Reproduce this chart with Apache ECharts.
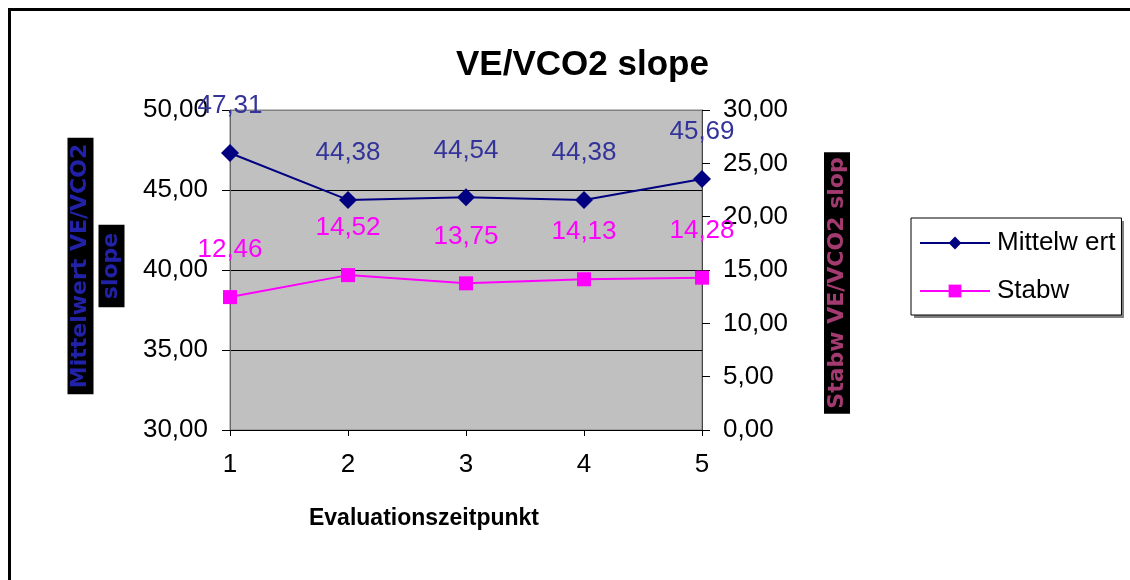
<!DOCTYPE html>
<html>
<head>
<meta charset="utf-8">
<title>VE/VCO2 slope</title>
<script src="https://cdn.jsdelivr.net/npm/echarts@6/dist/echarts.min.js"></script>
<style>
  html, body { margin: 0; padding: 0; background: #fff; }
  #chart { width: 1130px; height: 580px; }
</style>
</head>
<body>
<div id="chart"></div>
<script>
// values
const categories = ['1', '2', '3', '4', '5']
const mittelwert = [47.31, 44.38, 44.54, 44.38, 45.69]
const stabw = [12.46, 14.52, 13.75, 14.13, 14.28]

const font = 'Liberation Sans, Arial, sans-serif'
const pixelFont = 'DejaVu Sans, Verdana, sans-serif'
const comma = v => Number(v).toFixed(2).replace('.', ',')

const chart = echarts.init(document.getElementById('chart'))

chart.setOption({
  backgroundColor: '#fff',
  animation: false,
  textStyle: {fontFamily: font},
  title: {
    text: 'VE/VCO2 slope',
    left: 451,
    top: 43,
    textStyle: {fontSize: 35, fontWeight: 'bold', color: '#000', fontFamily: font}
  },
  graphic: [{
    type: 'rect',
    shape: {x: 9.5, y: 9.5, width: 1200, height: 700},
    style: {fill: 'none', stroke: '#000', lineWidth: 3},
    silent: true
  }, {
    // legend drop shadow
    type: 'rect',
    z: 0,
    shape: {x: 914, y: 221, width: 210, height: 97},
    style: {fill: '#808080'},
    silent: true
  }],
  legend: {
    left: 911,
    top: 218,
    z: 10,
    orient: 'vertical',
    itemWidth: 70,
    itemHeight: 16,
    itemGap: 22,
    padding: [12, 6, 11, 8],
    borderColor: '#000',
    borderWidth: 1,
    backgroundColor: '#fff',
    textStyle: {fontSize: 26, color: '#000', fontFamily: font, padding: [0, 0, 0, 2]}
  },
  grid: {
    left: 230,
    right: 428,
    top: 110,
    bottom: 150,
    show: true,
    backgroundColor: '#c0c0c0',
    borderColor: '#808080',
    borderWidth: 1
  },
  xAxis: {
    type: 'category',
    data: categories,
    boundaryGap: false,
    name: 'Evaluationszeitpunkt',
    nameLocation: 'middle',
    nameGap: 77,
    nameTextStyle: {fontSize: 23, fontWeight: 'bold', color: '#000', padding: [0, 84, 0, 0]},
    axisLine: {lineStyle: {color: '#000', width: 1}},
    axisTick: {alignWithLabel: true, length: 6, lineStyle: {color: '#000'}},
    axisLabel: {fontSize: 26, color: '#000', margin: 22}
  },
  yAxis: [{
    type: 'value',
    min: 30,
    max: 50,
    interval: 5,
    name: '{a|Mittelwert VE/VCO2}\n{b|slope}',
    nameLocation: 'middle',
    nameRotate: 90,
    nameGap: 103,
    nameTextStyle: {
      padding: [0, 0, 0, 8],
      rich: {
        a: {fontSize: 22, fontWeight: 'bold', fontFamily: pixelFont, color: '#2222a8',
          backgroundColor: '#000', padding: [2, 6], lineHeight: 31},
        b: {fontSize: 22, fontWeight: 'bold', fontFamily: pixelFont, color: '#2222a8',
          backgroundColor: '#000', padding: [2, 8], lineHeight: 31}
      }
    },
    axisLine: {show: true, lineStyle: {color: '#666'}},
    axisTick: {show: true, length: 8, lineStyle: {color: '#000'}},
    axisLabel: {fontSize: 26, color: '#000', margin: 22, formatter: comma},
    splitLine: {show: true, lineStyle: {color: ['#000', '#000', '#000', '#000', '#808080'], width: 1}}
  }, {
    type: 'value',
    min: 0,
    max: 30,
    interval: 5,
    position: 'right',
    name: '{a|Stabw VE/VCO2 slop}{s|}',
    nameLocation: 'middle',
    nameRotate: 90,
    nameGap: 122,
    nameTextStyle: {
      rich: {
        a: {fontSize: 22, fontWeight: 'bold', fontFamily: pixelFont, color: '#a33a70',
          backgroundColor: '#000', padding: [2, 5]},
        s: {width: 26}
      }
    },
    axisLine: {show: true, lineStyle: {color: '#444'}},
    axisTick: {show: true, length: 8, lineStyle: {color: '#000'}},
    axisLabel: {fontSize: 26, color: '#000', margin: 21, formatter: comma},
    splitLine: {show: false}
  }],
  series: [{
    name: 'Mittelw ert',
    type: 'line',
    yAxisIndex: 0,
    data: mittelwert,
    symbol: 'diamond',
    symbolSize: 18,
    itemStyle: {color: '#000080'},
    lineStyle: {color: '#000080', width: 2},
    label: {
      show: true,
      position: 'top',
      distance: 25,
      fontSize: 26,
      color: '#333399',
      formatter: p => comma(p.value)
    }
  }, {
    name: 'Stabw',
    type: 'line',
    yAxisIndex: 1,
    data: stabw,
    symbol: 'rect',
    symbolSize: 14,
    itemStyle: {color: '#ff00ff'},
    lineStyle: {color: '#ff00ff', width: 2},
    label: {
      show: true,
      position: 'top',
      distance: 27,
      fontSize: 26,
      color: '#ff00ff',
      formatter: p => comma(p.value)
    }
  }]
})
</script>
</body>
</html>
